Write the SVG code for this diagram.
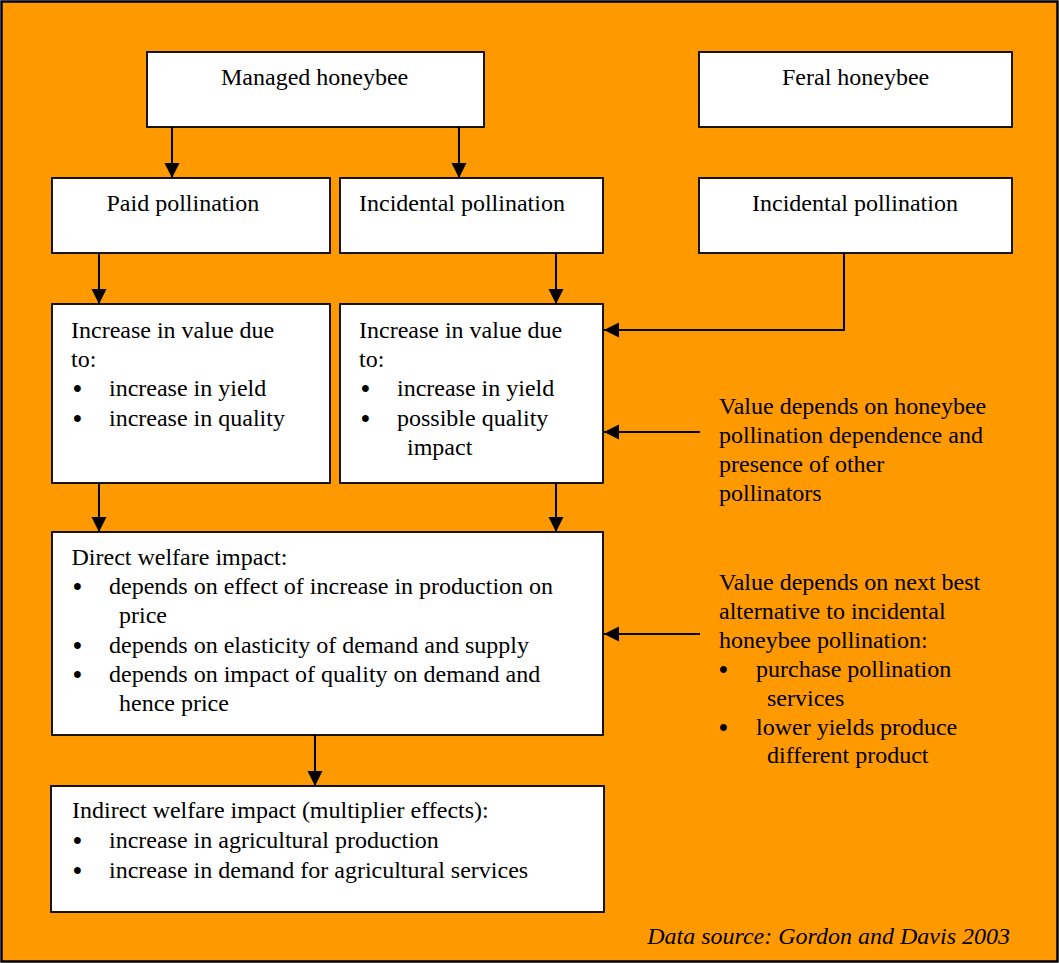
<svg xmlns="http://www.w3.org/2000/svg" width="1059" height="963" viewBox="0 0 1059 963">
<defs>
<style>
.box{fill:#fff;stroke:#000;stroke-width:1.8}
.t{font-family:"Liberation Serif","Times New Roman",serif;font-size:24px;fill:#000}
.b{font-family:"Liberation Serif","Times New Roman",serif;font-size:25px;font-weight:bold;fill:#000}
.c{stroke:#000;stroke-width:2;fill:none}
.i{font-style:italic}
</style>
<marker id="ah" markerUnits="userSpaceOnUse" markerWidth="16" markerHeight="16" refX="15" refY="7.5" orient="auto">
<path d="M0,0 L15,7.5 L0,15 Z" fill="#000"/>
</marker>
</defs>
<rect x="1.5" y="1.5" width="1056" height="960" fill="#FF9900" stroke="#000" stroke-width="2.5"/>

<g id="managed"><rect class="box" x="147" y="52" width="337" height="75"/><text class="t" x="221" y="85">Managed honeybee</text></g>
<g id="feral"><rect class="box" x="699" y="52" width="313" height="75"/><text class="t" x="782" y="85">Feral honeybee</text></g>
<g id="paid"><rect class="box" x="52" y="178" width="278" height="75"/><text class="t" x="106.5" y="211">Paid pollination</text></g>
<g id="incidental1"><rect class="box" x="340" y="178" width="263" height="75"/><text class="t" x="359" y="211">Incidental pollination</text></g>
<g id="incidental2"><rect class="box" x="699" y="178" width="313" height="75"/><text class="t" x="752" y="211">Incidental pollination</text></g>
<g id="value1"><rect class="box" x="52" y="304" width="278" height="179"/>
<text class="t"><tspan x="71" y="338">Increase in value due</tspan><tspan x="71" y="367">to:</tspan><tspan x="109" y="396">increase in yield</tspan><tspan x="109" y="426">increase in quality</tspan></text>
<text class="b"><tspan x="73" y="397">•</tspan><tspan x="73" y="427">•</tspan></text></g>
<g id="value2"><rect class="box" x="340" y="304" width="263" height="179"/>
<text class="t"><tspan x="359" y="338">Increase in value due</tspan><tspan x="359" y="367">to:</tspan><tspan x="397" y="396">increase in yield</tspan><tspan x="397" y="426">possible quality</tspan><tspan x="407" y="455">impact</tspan></text>
<text class="b"><tspan x="361" y="397">•</tspan><tspan x="361" y="427">•</tspan></text></g>
<g id="direct"><rect class="box" x="52" y="532" width="551" height="203"/>
<text class="t"><tspan x="71.5" y="565">Direct welfare impact:</tspan><tspan x="109" y="594">depends on effect of increase in production on</tspan><tspan x="119" y="623">price</tspan><tspan x="109" y="653">depends on elasticity of demand and supply</tspan><tspan x="109" y="682">depends on impact of quality on demand and</tspan><tspan x="119" y="711">hence price</tspan></text>
<text class="b"><tspan x="73" y="595">•</tspan><tspan x="73" y="654">•</tspan><tspan x="73" y="683">•</tspan></text></g>
<g id="indirect"><rect class="box" x="51" y="786" width="553" height="126"/>
<text class="t"><tspan x="72" y="818">Indirect welfare impact (multiplier effects):</tspan><tspan x="109" y="848">increase in agricultural production</tspan><tspan x="109" y="878">increase in demand for agricultural services</tspan></text>
<text class="b"><tspan x="73" y="849">•</tspan><tspan x="73" y="879">•</tspan></text></g>
<g id="note1"><text class="t"><tspan x="719" y="414">Value depends on honeybee</tspan><tspan x="719" y="443">pollination dependence and</tspan><tspan x="719" y="472">presence of other</tspan><tspan x="719" y="501">pollinators</tspan></text></g>
<g id="note2"><text class="t"><tspan x="719" y="590">Value depends on next best</tspan><tspan x="719" y="619">alternative to incidental</tspan><tspan x="719" y="648">honeybee pollination:</tspan><tspan x="756" y="677">purchase pollination</tspan><tspan x="767" y="706">services</tspan><tspan x="756" y="735">lower yields produce</tspan><tspan x="767" y="763">different product</tspan></text>
<text class="b"><tspan x="719" y="678">•</tspan><tspan x="719" y="736">•</tspan></text></g>
<g id="source"><text class="t i" x="1010" y="944" text-anchor="end">Data source: Gordon and Davis 2003</text></g>

<g id="connectors">
<line class="c" x1="172" y1="127" x2="172" y2="178" marker-end="url(#ah)"/>
<line class="c" x1="459" y1="127" x2="459" y2="178" marker-end="url(#ah)"/>
<line class="c" x1="99" y1="253" x2="99" y2="304" marker-end="url(#ah)"/>
<line class="c" x1="556" y1="253" x2="556" y2="304" marker-end="url(#ah)"/>
<polyline class="c" points="844,253 844,330 604,330" marker-end="url(#ah)"/>
<line class="c" x1="700" y1="432" x2="604" y2="432" marker-end="url(#ah)"/>
<line class="c" x1="99" y1="483" x2="99" y2="532" marker-end="url(#ah)"/>
<line class="c" x1="556" y1="483" x2="556" y2="532" marker-end="url(#ah)"/>
<line class="c" x1="700" y1="634" x2="604" y2="634" marker-end="url(#ah)"/>
<line class="c" x1="315" y1="735" x2="315" y2="786" marker-end="url(#ah)"/>
</g>
</svg>
